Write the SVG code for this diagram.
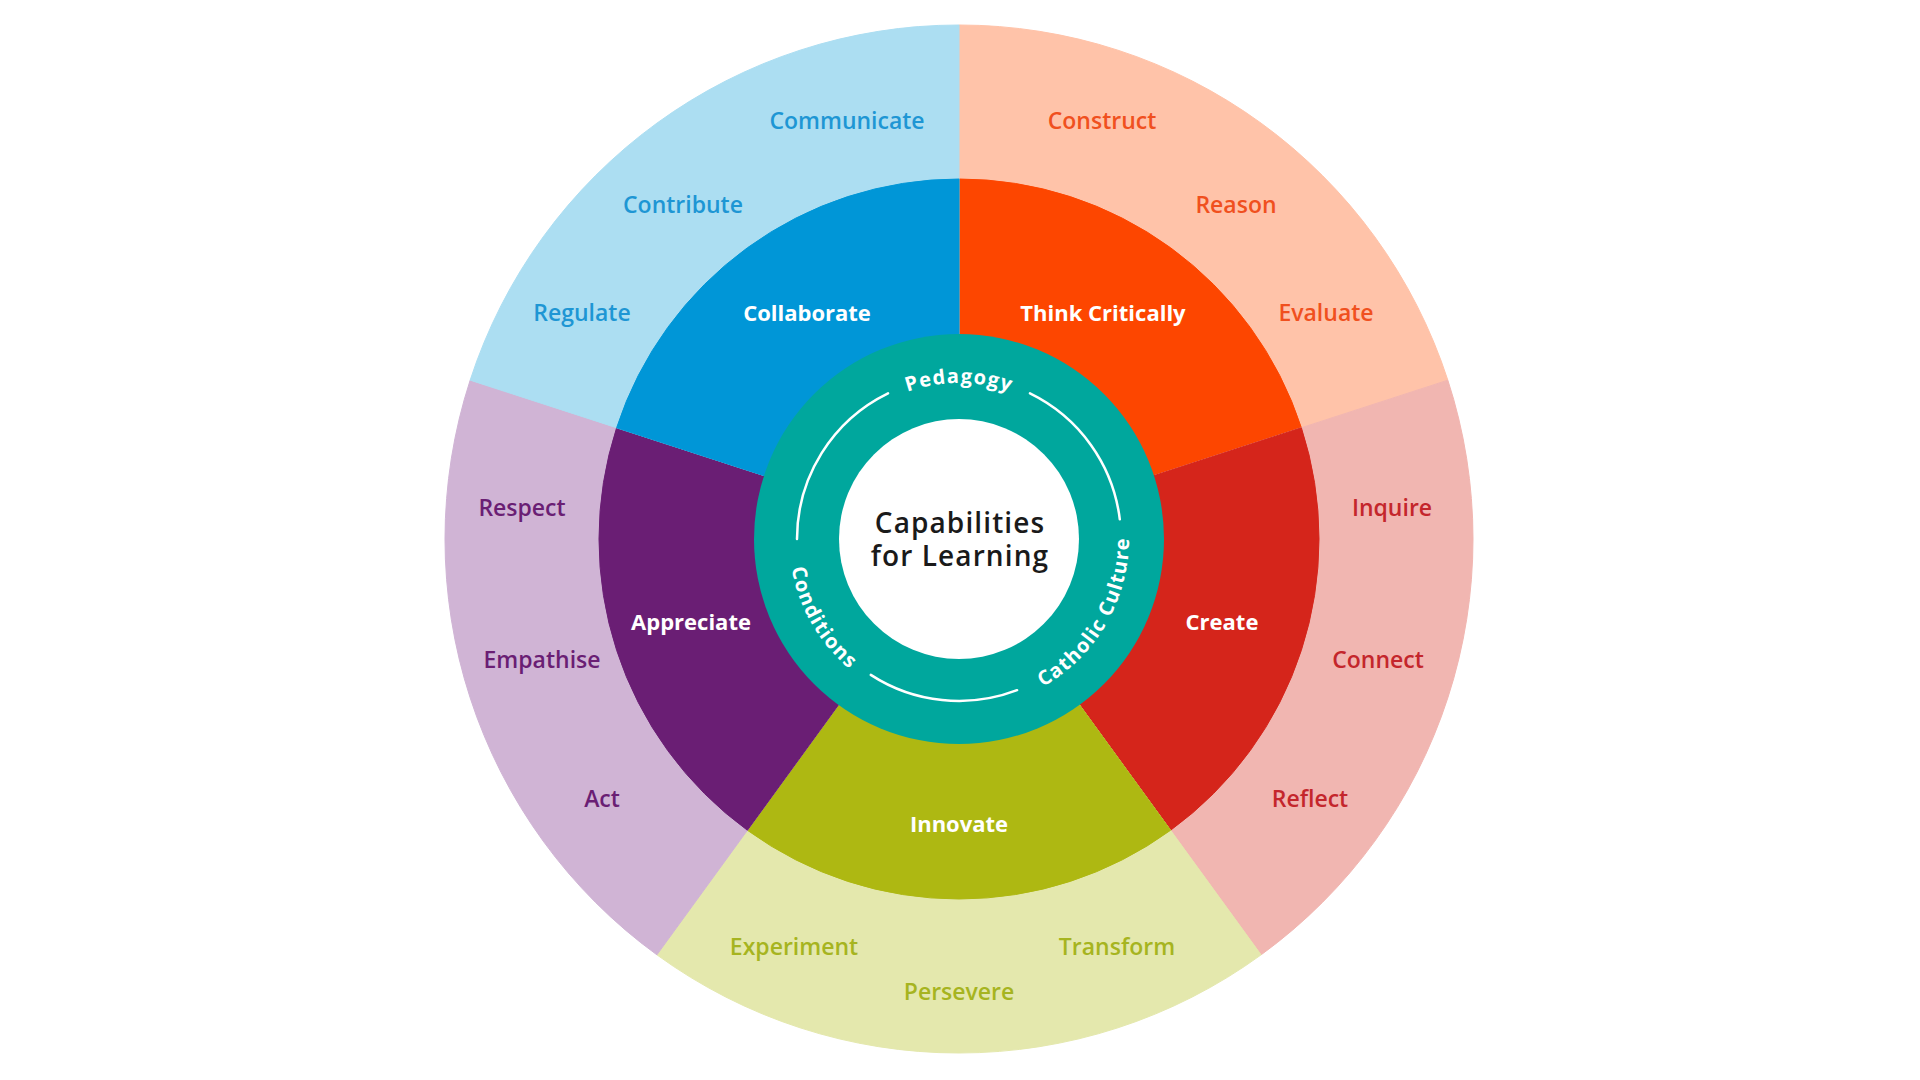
<svg xmlns="http://www.w3.org/2000/svg" width="1920" height="1080" viewBox="0 0 1920 1080">
<defs>
<style>
text{font-family:"Open Sans","Liberation Sans",sans-serif;text-anchor:middle}
.o{font-size:23px;font-weight:600}
.i{font-size:22px;font-weight:700;fill:#ffffff}
.ring{font-size:20px;font-weight:700;fill:#ffffff;letter-spacing:1.2px}
.c{font-size:28px;font-weight:600;fill:#1a1a1a;letter-spacing:1.1px}
.arc{fill:none;stroke:#ffffff;stroke-width:2.5;stroke-linecap:round}
</style>
<path id="pPed" d="M823.9 461 A156 156 0 0 1 1094.1 461"/>
<path id="pCath" d="M959 709 A170 170 0 0 0 1106.2 454"/>
<path id="pCond" d="M811.8 454 A170 170 0 0 0 959 709"/>
</defs>
<rect width="1920" height="1080" fill="#ffffff"/>

<g id="think-critically">
<path d="M959 539 L959 25 A514 514 0 0 1 1447.84 380.17 Z" fill="#FFC3A9" stroke="#FFC3A9" stroke-width="1"/>
<path d="M959 539 L959 179 A360 360 0 0 1 1301.38 427.75 Z" fill="#FD4600" stroke="#FD4600" stroke-width="1"/>
<text class="o" x="1102" y="129" fill="#F0501E">Construct</text>
<text class="o" x="1236" y="213" fill="#F0501E">Reason</text>
<text class="o" x="1326" y="321" fill="#F0501E">Evaluate</text>
<text class="i" x="1103" y="321">Think Critically</text>
</g>

<g id="create">
<path d="M959 539 L1447.84 380.17 A514 514 0 0 1 1261.12 954.83 Z" fill="#F1B6B1" stroke="#F1B6B1" stroke-width="1"/>
<path d="M959 539 L1301.38 427.75 A360 360 0 0 1 1170.60 830.25 Z" fill="#D5251B" stroke="#D5251B" stroke-width="1"/>
<text class="o" x="1392" y="516" fill="#C4262C">Inquire</text>
<text class="o" x="1378" y="668" fill="#C4262C">Connect</text>
<text class="o" x="1310" y="807" fill="#C4262C">Reflect</text>
<text class="i" x="1222" y="630">Create</text>
</g>

<g id="innovate">
<path d="M959 539 L1261.12 954.83 A514 514 0 0 1 656.88 954.83 Z" fill="#E4E8AD" stroke="#E4E8AD" stroke-width="1"/>
<path d="M959 539 L1170.60 830.25 A360 360 0 0 1 747.40 830.25 Z" fill="#AEB812" stroke="#AEB812" stroke-width="1"/>
<text class="i" x="959" y="832">Innovate</text>
<text class="o" x="794" y="955" fill="#A6B420">Experiment</text>
<text class="o" x="1117" y="955" fill="#A6B420">Transform</text>
<text class="o" x="959" y="1000" fill="#A6B420">Persevere</text>
</g>

<g id="appreciate">
<path d="M959 539 L656.88 954.83 A514 514 0 0 1 470.16 380.17 Z" fill="#D0B4D5" stroke="#D0B4D5" stroke-width="1"/>
<path d="M959 539 L747.40 830.25 A360 360 0 0 1 616.62 427.75 Z" fill="#6A1E74" stroke="#6A1E74" stroke-width="1"/>
<text class="o" x="522" y="516" fill="#6A1E74">Respect</text>
<text class="o" x="542" y="668" fill="#6A1E74">Empathise</text>
<text class="o" x="602" y="807" fill="#6A1E74">Act</text>
<text class="i" x="691" y="630">Appreciate</text>
</g>

<g id="collaborate">
<path d="M959 539 L470.16 380.17 A514 514 0 0 1 959 25 Z" fill="#ACDEF2" stroke="#ACDEF2" stroke-width="1"/>
<path d="M959 539 L616.62 427.75 A360 360 0 0 1 959 179 Z" fill="#0096D7" stroke="#0096D7" stroke-width="1"/>
<text class="o" x="847" y="129" fill="#1E96D4">Communicate</text>
<text class="o" x="683" y="213" fill="#1E96D4">Contribute</text>
<text class="o" x="582" y="321" fill="#1E96D4">Regulate</text>
<text class="i" x="807" y="321">Collaborate</text>
</g>

<g id="core">
<circle cx="959" cy="539" r="205" fill="#00A79D"/>
<path class="arc" d="M1030 393.4 A162 162 0 0 1 1119.8 519.3"/>
<path class="arc" d="M1017.1 690.2 A162 162 0 0 1 870.8 674.9"/>
<path class="arc" d="M797 539 A162 162 0 0 1 888 393.4"/>
<text class="ring"><textPath href="#pPed" startOffset="50%">Pedagogy</textPath></text>
<text class="ring"><textPath href="#pCath" startOffset="50%">Catholic Culture</textPath></text>
<text class="ring"><textPath href="#pCond" startOffset="50%">Conditions</textPath></text>
<circle cx="959" cy="539" r="120" fill="#ffffff"/>
<text class="c" x="960" y="533">Capabilities</text>
<text class="c" x="960" y="566">for Learning</text>
</g>
</svg>
